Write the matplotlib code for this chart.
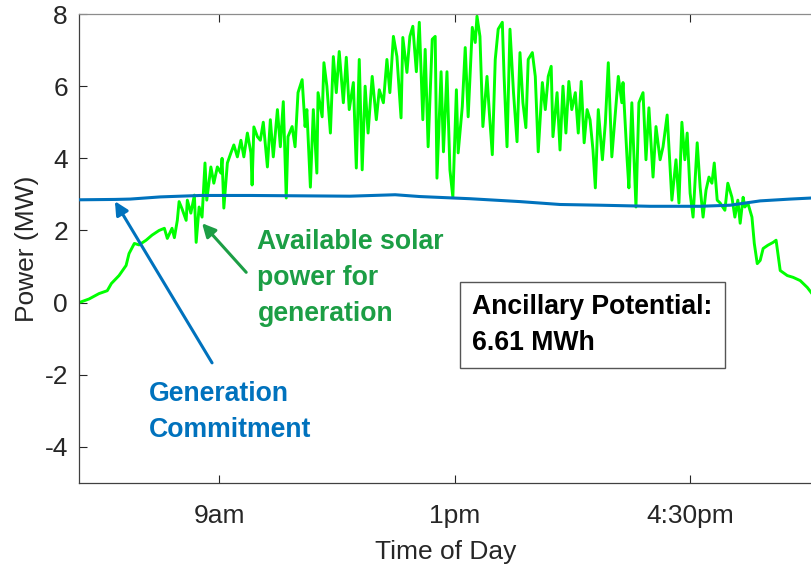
import matplotlib
matplotlib.use("Agg")
import matplotlib.pyplot as plt
import numpy as np

# ---- data (time of day in hours on the chart's axis scale, power in MW) ----
solar_t = [6.62, 6.79, 6.96, 7.10, 7.17, 7.30, 7.42, 7.47, 7.56, 7.64, 7.76, 7.86, 7.98,
           8.07, 8.12, 8.20, 8.24, 8.29, 8.32, 8.37, 8.44, 8.46, 8.52, 8.58, 8.61, 8.66,
           8.71, 8.76, 8.79, 8.86, 8.91, 8.97, 9.03, 9.05, 9.08, 9.14, 9.20, 9.25, 9.31,
           9.37, 9.42, 9.48, 9.54, 9.56, 9.59, 9.65, 9.70, 9.75, 9.82, 9.87, 9.92, 9.99,
           10.04, 10.09, 10.14, 10.17, 10.24, 10.29, 10.34, 10.41, 10.46, 10.49, 10.55,
           10.60, 10.66, 10.68, 10.75, 10.78, 10.83, 10.89, 10.94, 10.99, 11.04, 11.11,
           11.16, 11.21, 11.28, 11.33, 11.38, 11.43, 11.48, 11.53, 11.60, 11.67, 11.72,
           11.79, 11.85, 11.90, 11.96, 12.02, 12.09, 12.12, 12.19, 12.24, 12.29, 12.35,
           12.40, 12.46, 12.50, 12.55, 12.62, 12.67, 12.70, 12.77, 12.81, 12.87, 12.92,
           12.97, 13.03, 13.06, 13.13, 13.18, 13.23, 13.30, 13.35, 13.38, 13.43, 13.48,
           13.55, 13.59, 13.64, 13.69, 13.74, 13.81, 13.84, 13.89, 13.94, 14.00, 14.06,
           14.11, 14.16, 14.21, 14.25, 14.32, 14.37, 14.42, 14.49, 14.54, 14.59, 14.64,
           14.67, 14.74, 14.79, 14.84, 14.89, 14.94, 14.99, 15.05, 15.10, 15.15, 15.20,
           15.25, 15.30, 15.35, 15.39, 15.44, 15.51, 15.56, 15.61, 15.67, 15.72, 15.78,
           15.84, 15.86, 15.93, 15.96, 16.01, 16.08, 16.13, 16.20, 16.25, 16.30, 16.37,
           16.42, 16.49, 16.54, 16.61, 16.69, 16.76, 16.81, 16.86, 16.91, 16.95, 17.00,
           17.05, 17.12, 17.17, 17.22, 17.27, 17.32, 17.37, 17.41, 17.46, 17.51, 17.59,
           17.64, 17.71, 17.76, 17.81, 17.85, 17.90, 17.93, 17.98, 18.05, 18.09, 18.14,
           18.19, 18.24, 18.32, 18.41, 18.46, 18.53, 18.65, 18.75, 18.87, 18.99, 19.07]
solar_mw = [0.00, 0.10, 0.25, 0.33, 0.53, 0.75, 1.03, 1.36, 1.64, 1.60, 1.73, 1.87, 2.00,
            2.06, 1.78, 2.06, 1.80, 2.28, 2.80, 2.60, 2.28, 2.84, 2.48, 2.98, 1.67, 2.65,
            2.37, 3.87, 2.84, 3.76, 3.31, 3.76, 3.59, 4.00, 2.62, 3.87, 4.15, 4.37, 4.04,
            4.50, 4.04, 4.70, 4.15, 3.26, 4.87, 4.60, 4.50, 5.00, 3.76, 5.07, 4.04, 5.35,
            4.32, 5.57, 2.90, 4.60, 4.88, 4.32, 5.82, 6.18, 4.88, 5.35, 3.20,
            5.35, 3.59, 5.82, 5.15, 6.65, 6.00, 4.70, 6.82, 5.82, 6.96, 5.54,
            6.80, 5.35, 6.10, 3.73, 6.74, 3.68, 6.00, 4.70, 6.27, 5.07, 5.90,
            5.54, 6.74, 5.82, 7.38, 6.82, 5.12, 7.35, 6.38, 7.38, 7.66, 6.40,
            7.77, 5.07, 7.02, 4.32, 7.30, 7.38, 3.45, 6.40, 4.18, 6.40, 3.68,
            2.92, 5.90, 4.15, 5.43, 7.07, 5.15, 7.63, 7.21, 7.94, 7.38, 4.88,
            6.27, 5.26, 4.10, 6.74, 7.58, 7.77, 6.27, 4.32, 7.58, 5.82, 4.46,
            6.93, 5.54, 4.85, 6.74, 6.93, 6.27, 4.18, 6.10, 5.35, 6.27, 6.55,
            4.60, 5.82, 4.23, 6.00, 4.70, 6.13, 5.35, 5.82, 4.70, 6.13, 4.43,
            5.35, 5.07, 4.23, 3.18, 5.35, 3.96, 4.98, 6.65, 4.04, 5.07, 6.27,
            5.54, 6.10, 3.96, 3.18, 5.54, 2.65, 5.54, 5.82, 3.96, 5.40, 3.48,
            4.88, 3.96, 4.32, 5.20, 2.84, 3.96, 2.76, 5.00, 3.96, 4.70, 3.03,
            2.37, 4.43, 3.20, 2.37, 3.12, 3.48, 3.31, 3.87, 2.84, 2.76, 2.56,
            3.31, 2.92, 2.37, 2.84, 2.20, 2.92, 2.65, 2.76, 2.37, 1.64, 1.08,
            1.17, 1.50, 1.59, 1.67, 1.73, 0.89, 0.75, 0.70, 0.61, 0.42, 0.25]

commit_t = [6.62, 7.23, 7.49, 8.00, 8.68, 9.53, 10.38, 11.22, 11.99, 12.41, 13.26,
            14.11, 14.79, 15.47, 16.32, 17.17, 17.68, 18.19, 18.70, 19.07]
commit_mw = [2.85, 2.86, 2.87, 2.93, 2.97, 2.97, 2.96, 2.95, 2.99, 2.94, 2.88,
             2.80, 2.72, 2.70, 2.67, 2.67, 2.70, 2.82, 2.87, 2.90]

xtick_pos = [9, 13, 17]
xtick_labels = ["9am", "1pm", "4:30pm"]
ytick_pos = [-4, -2, 0, 2, 4, 6, 8]
ancillary_mwh = 6.61

# ---- styling ----
plt.rcParams['font.family'] = ['Liberation Sans', 'DejaVu Sans']
plt.rcParams['axes.unicode_minus'] = False
GREEN_LINE = '#00FF00'
BLUE = '#0072BD'
GREEN_TXT = '#1C9E45'
AX = '#262626'

fig = plt.figure(figsize=(8.12, 5.65), dpi=100)
ax = fig.add_axes([79/812, 1 - 483/565, 733/812, (483 - 14)/565])

ax.plot(commit_t, commit_mw, color=BLUE, lw=2.2, solid_capstyle='round', zorder=3)
ax.plot(solar_t, solar_mw, color=GREEN_LINE, lw=2.1, solid_joinstyle='round', zorder=2)

ax.set_xlim(6.62, 19.07)
ax.set_ylim(-5, 8)
ax.set_xticks(xtick_pos)
ax.set_xticklabels(xtick_labels)
ax.set_yticks(ytick_pos)
ax.tick_params(axis='both', direction='in', length=5.5, width=0.8, colors=AX,
               labelsize=19, top=True, right=False)
ax.tick_params(axis='x', pad=15)
ax.tick_params(axis='y', pad=8)
for side in ['left', 'bottom']:
    ax.spines[side].set_color('#404040')
    ax.spines[side].set_linewidth(0.9)
ax.spines['top'].set_color('#8c8c8c')
ax.spines['top'].set_linewidth(0.9)
ax.spines['right'].set_visible(False)

ax.set_xlabel('Time of Day', fontsize=19, color=AX, labelpad=9)
ax.set_ylabel('Power (MW)', fontsize=19, color=AX)
ax.yaxis.set_label_coords(-0.055, 0.5)

# annotations (va='baseline' aligns the last line's baseline)
ax.annotate('', xy=(8.71, 2.20), xytext=(9.46, 0.84),
            arrowprops=dict(arrowstyle='-|>,head_length=0.8,head_width=0.4',
                            color=GREEN_TXT, lw=2.2, shrinkA=0, shrinkB=0))
ax.text(9.65, -0.50, 'Available solar\npower for\ngeneration', color=GREEN_TXT,
        fontsize=19.2, fontweight='bold', ha='left', va='baseline', linespacing=1.5)

ax.annotate('', xy=(7.23, 2.81), xytext=(8.88, -1.67),
            arrowprops=dict(arrowstyle='-|>,head_length=0.8,head_width=0.4',
                            color=BLUE, lw=2.2, shrinkA=0, shrinkB=0))
ax.text(7.81, -3.73, 'Generation\nCommitment', color=BLUE,
        fontsize=19.2, fontweight='bold', ha='left', va='baseline', linespacing=1.5)

ax.text(13.30, -1.31, f'Ancillary Potential:\n{ancillary_mwh:.2f} MWh', color='black',
        fontsize=19.2, fontweight='bold', ha='left', va='baseline', linespacing=1.5,
        bbox=dict(boxstyle='square,pad=0.45', facecolor='white', edgecolor='#555555', lw=1.0))

fig.savefig('out.png', dpi=100)
